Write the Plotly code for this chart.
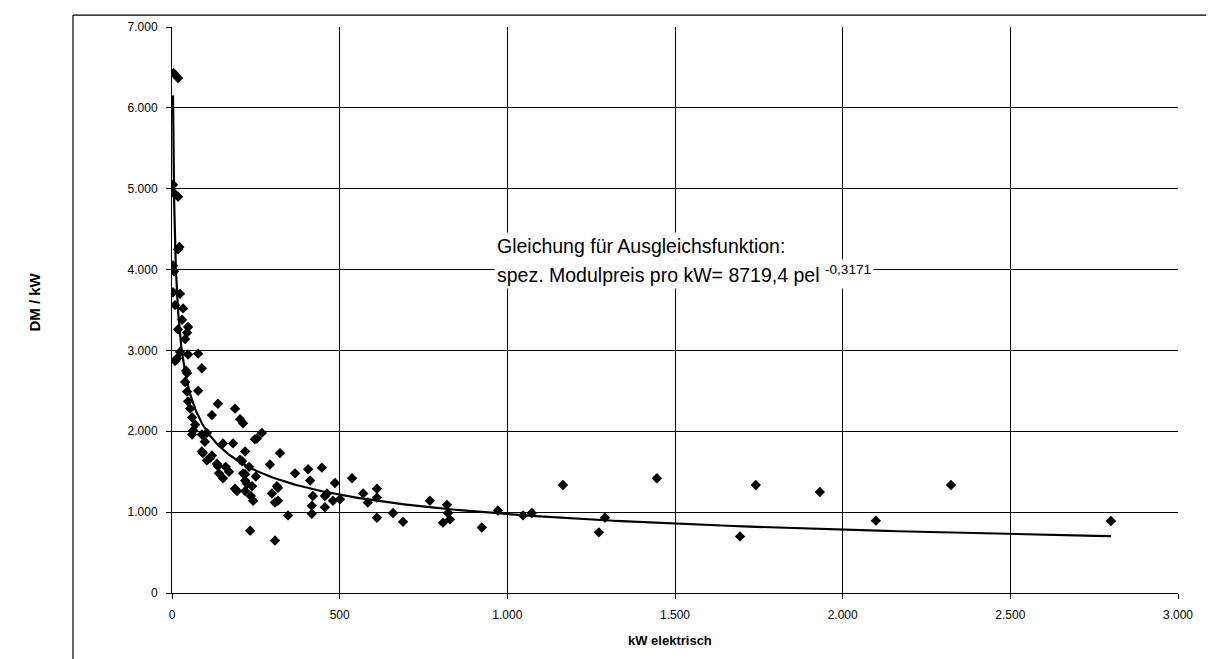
import numpy as np
import plotly.graph_objects as go

# Data points: installed electrical power (kW) vs specific module price (DM/kW)
kw_el = [5, 18, 3, 5, 18, 18, 22, 3, 6, 3, 24, 9, 33, 30, 18, 45, 39, 48, 24, 48, 78, 9, 15, 89, 45,
         39, 42, 78, 45, 48, 54, 60, 69, 63, 60, 89, 104, 98, 89, 92, 119, 104, 134, 137, 113,
         137, 188, 119, 203, 212, 268, 253, 247, 182, 152, 322, 218, 203, 209, 292, 152, 212, 218,
         218, 224, 239, 188, 194, 218, 313, 298, 316, 242, 307, 316, 346, 233, 307, 170, 160, 140,
         230, 250, 235,
         367, 406, 447, 537, 412, 486, 570, 611, 611, 462, 420, 456, 417, 456, 480, 501, 417, 584,
         611, 659, 689, 769, 820, 823, 808, 829, 924, 972, 1047, 1073,
         1166, 1273, 1291, 1446, 1694, 1741, 1932, 2099, 2323, 2800]
dm_per_kw = [6430, 6370, 5050, 4950, 4900, 4250, 4280, 4050, 3980, 3720, 3700, 3560, 3520, 3380, 3260,
             3220, 3140, 3290, 2980, 2950, 2960, 2870, 2900, 2780, 2720, 2610, 2750, 2500, 2490,
             2370, 2280, 2170, 2080, 2010, 1960, 1960, 1980, 1870, 1750, 1730, 1700, 1640, 1600,
             1570, 1670,
             2340, 2280, 2200, 2150, 2100, 1980, 1910, 1900, 1850, 1850, 1730, 1750, 1650, 1630,
             1590, 1420, 1480, 1470, 1390, 1350, 1320, 1290, 1260, 1260, 1320, 1230, 1140, 1140,
             1120, 1300, 960, 770, 650, 1500, 1560, 1480, 1560, 1440, 1200,
             1480, 1530, 1550, 1420, 1390, 1360, 1230, 1290, 1180, 1230, 1200, 1200, 1080, 1060,
             1140, 1160, 980, 1120, 930, 990, 880, 1140, 1090, 990, 870, 910, 810, 1020, 960, 990,
             1335, 750, 930, 1420, 700, 1335, 1250, 895, 1335, 890]

# Trend line as stated on the chart: y = 8719.4 * pel^-0.3171
fit_coef = 8719.4
fit_exp = -0.3171
fit_x_start = 3
fit_x_end = 2800

x_ticks = [0, 500, 1000, 1500, 2000, 2500, 3000]
y_ticks = [0, 1000, 2000, 3000, 4000, 5000, 6000, 7000]

fit_x = np.geomspace(fit_x_start, fit_x_end, 400)
fit_y = fit_coef * fit_x ** fit_exp

fig = go.Figure()
fig.add_trace(go.Scatter(x=fit_x, y=fit_y, mode="lines",
                         line=dict(color="black", width=2.2), hoverinfo="skip",
                         showlegend=False))
fig.add_trace(go.Scatter(x=kw_el, y=dm_per_kw, mode="markers",
                         marker=dict(symbol="diamond", size=8, color="black"),
                         showlegend=False))

FONT = "Liberation Sans, Arial, sans-serif"
axis_common = dict(showgrid=True, gridcolor="black", gridwidth=1, zeroline=False,
                   showline=True, linecolor="black", linewidth=1,
                   ticks="outside", ticklen=5, tickcolor="black", tickwidth=1,
                   tickformat=",d", tickfont=dict(family=FONT, size=12, color="black"))

fig.update_xaxes(range=[0, 3000], tickvals=x_ticks, ticklabelstandoff=6, **axis_common)
fig.update_yaxes(range=[0, 7000], tickvals=y_ticks, ticklabelstandoff=6, **axis_common)

# page offset of the plot div (body margin) is 8px
OFF = 8
PL, PR, PT, PB = 172, 1178, 22, 593   # plot area in page pixels
W, H = 1214, 659

def px_x(p):
    return (p - PL) / (PR - PL)

def px_y(p):
    return (PB - p) / (PB - PT)

fig.update_layout(
    width=W, height=H,
    margin=dict(l=PL - OFF, r=W + OFF - PR, t=PT - OFF, b=H + OFF - PB),
    paper_bgcolor="white", plot_bgcolor="white",
    separators=",.",
    font=dict(family=FONT, color="black"),
    shapes=[
        dict(type="line", xref="paper", yref="paper", x0=px_x(73), x1=px_x(73),
             y0=px_y(10), y1=px_y(670), line=dict(color="black", width=1.2)),
        dict(type="line", xref="paper", yref="paper", x0=px_x(73), x1=px_x(1230),
             y0=px_y(10), y1=px_y(10), line=dict(color="black", width=1.2)),
    ],
    annotations=[
        dict(xref="paper", yref="paper", x=px_x(670), y=px_y(641), text="<b>kW elektrisch</b>",
             showarrow=False, font=dict(family=FONT, size=13), xanchor="center", yanchor="middle"),
        dict(xref="paper", yref="paper", x=px_x(35), y=px_y(300), text="<b>DM / kW</b>",
             textangle=-90, showarrow=False, font=dict(family=FONT, size=15),
             xanchor="center", yanchor="middle"),
        dict(xref="paper", yref="paper", x=px_x(494), y=px_y(243),
             text="Gleichung für Ausgleichsfunktion:",
             showarrow=False, align="left", xanchor="left", yanchor="middle",
             bgcolor="white", font=dict(family=FONT, size=19.5), borderpad=2),
        dict(xref="paper", yref="paper", x=px_x(494), y=px_y(271),
             text="spez. Modulpreis pro kW= 8719,4 pel <sup>-0,3171</sup>",
             showarrow=False, align="left", xanchor="left", yanchor="middle",
             bgcolor="white", font=dict(family=FONT, size=19.5), borderpad=2),
    ],
)

fig.write_html("out.html")
